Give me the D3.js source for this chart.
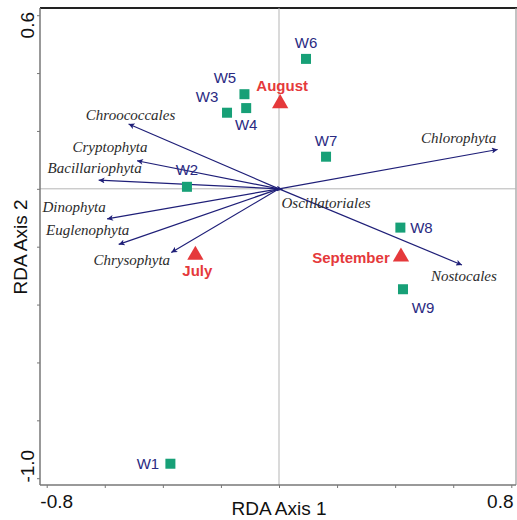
<!DOCTYPE html>
<html>
<head>
<meta charset="utf-8">
<script src="https://cdn.jsdelivr.net/npm/d3@7"></script>
<style>
  html, body { margin: 0; padding: 0; background: #fff; }
  svg { display: block; }
</style>
</head>
<body>
<svg id="chart" width="517" height="520"></svg>
<script>
// ---- Data ----
const siteNames = ["W1", "W2", "W3", "W4", "W5", "W6", "W7", "W8", "W9"];
const siteX = [-0.374, -0.317, -0.179, -0.113, -0.119, 0.093, 0.162, 0.418, 0.427];
const siteY = [-0.950, 0.007, 0.263, 0.279, 0.327, 0.449, 0.111, -0.134, -0.347];

const monthNames = ["August", "July", "September"];
const monthX = [0.004, -0.288, 0.420];
const monthY = [0.295, -0.229, -0.235];

const speciesNames = ["Chroococcales", "Cryptophyta", "Bacillariophyta", "Dinophyta",
  "Euglenophyta", "Chrysophyta", "Chlorophyta", "Nostocales", "Oscillatoriales"];
const speciesX = [-0.518, -0.489, -0.621, -0.592, -0.552, -0.371, 0.753, 0.630, 0.012];
const speciesY = [0.224, 0.097, 0.030, -0.104, -0.192, -0.220, 0.136, -0.263, -0.002];

const xTicks = [-0.8, -0.6, -0.4, -0.2, 0, 0.2, 0.4, 0.6, 0.8];
const yTicks = [-1.0, -0.8, -0.6, -0.4, -0.2, 0, 0.2, 0.4, 0.6];
const xTickLabels = ["-0.8", "0.8"];
const yTickLabels = ["-1.0", "0.6"];
const xAxisTitle = "RDA Axis 1";
const yAxisTitle = "RDA Axis 2";

// ---- Layout (label offsets in px, separate from data) ----
const siteLabelOffset = {
  W1: [-22.5, 5.5], W2: [0, -12], W3: [-20, -11], W4: [0, 22], W5: [-19.5, -11],
  W6: [0, -11], W7: [0, -10.5], W8: [21, 5.5], W9: [20, 24]
};
const monthLabelOffset = { August: [2, -12], July: [2, 21], September: [-50, 6.5] };
const speciesLabelOffset = {
  Chroococcales: [2, -4.5, "middle"], Cryptophyta: [-27, -9, "middle"],
  Bacillariophyta: [-4, -7, "middle"], Dinophyta: [-33, -7, "middle"],
  Euglenophyta: [-31, -9, "middle"], Chrysophyta: [-39.5, 13, "middle"],
  Chlorophyta: [-39, -6, "middle"], Nostocales: [2, 16, "middle"],
  Oscillatoriales: [-1, 18.5, "start"]
};

const svg = d3.select("#chart");
const x = d3.scaleLinear().domain([-0.8, 0.8]).range([46.7, 511.3]);
const y = d3.scaleLinear().domain([-1.0, 0.6]).range([478.2, 15.2]);

const frame = { left: 40, top: 8, right: 516, bottom: 485 };

// frame: top dark, right light gray
svg.append("line").attr("x1", frame.left).attr("x2", frame.right + 1)
  .attr("y1", frame.top).attr("y2", frame.top)
  .attr("stroke", "#222").attr("stroke-width", 2);
svg.append("line").attr("x1", frame.right).attr("x2", frame.right)
  .attr("y1", frame.top).attr("y2", frame.bottom)
  .attr("stroke", "#999").attr("stroke-width", 1.2);

// zero lines
svg.append("line").attr("x1", frame.left).attr("x2", frame.right)
  .attr("y1", y(0)).attr("y2", y(0)).attr("stroke", "#b5b5b5").attr("stroke-width", 1);
svg.append("line").attr("x1", x(0)).attr("x2", x(0))
  .attr("y1", frame.top).attr("y2", frame.bottom).attr("stroke", "#b5b5b5").attr("stroke-width", 1);

// axes (tick marks only)
const xAxis = d3.axisBottom(x).tickValues(xTicks).tickSize(3).tickFormat("");
const yAxis = d3.axisLeft(y).tickValues(yTicks).tickSize(3).tickFormat("");
const gx = svg.append("g").attr("transform", `translate(0,${frame.bottom})`).call(xAxis);
const gy = svg.append("g").attr("transform", `translate(${frame.left},0)`).call(yAxis);
gx.select(".domain").remove();
gy.select(".domain").remove();
gx.selectAll(".tick line").attr("stroke", "#777");
gy.selectAll(".tick line").attr("stroke", "#777");
svg.append("line").attr("x1", frame.left).attr("x2", frame.right)
  .attr("y1", frame.bottom).attr("y2", frame.bottom).attr("stroke", "#777").attr("stroke-width", 1.5);
svg.append("line").attr("x1", frame.left).attr("x2", frame.left)
  .attr("y1", frame.top).attr("y2", frame.bottom).attr("stroke", "#777").attr("stroke-width", 1.5);

const sans = "Arial, 'Liberation Sans', Helvetica, sans-serif";
const serif = "'Times New Roman', 'Liberation Serif', Times, serif";

// end tick labels
svg.append("text").attr("x", x(-0.8) + 10).attr("y", 508).attr("text-anchor", "middle")
  .attr("font-family", sans).attr("font-size", 19).attr("fill", "#111").text(xTickLabels[0]);
svg.append("text").attr("x", x(0.8) - 11).attr("y", 508).attr("text-anchor", "middle")
  .attr("font-family", sans).attr("font-size", 19).attr("fill", "#111").text(xTickLabels[1]);
svg.append("text").attr("transform", `translate(34,${y(-1.0) - 12}) rotate(-90)`)
  .attr("text-anchor", "middle").attr("font-family", sans).attr("font-size", 19)
  .attr("fill", "#111").text(yTickLabels[0]);
svg.append("text").attr("transform", `translate(34,${y(0.6) + 10}) rotate(-90)`)
  .attr("text-anchor", "middle").attr("font-family", sans).attr("font-size", 19)
  .attr("fill", "#111").text(yTickLabels[1]);

// axis titles
svg.append("text").attr("x", x(0)).attr("y", 515).attr("text-anchor", "middle")
  .attr("font-family", sans).attr("font-size", 19).attr("fill", "#111").text(xAxisTitle);
svg.append("text").attr("transform", `translate(27,247) rotate(-90)`)
  .attr("text-anchor", "middle").attr("font-family", sans).attr("font-size", 19)
  .attr("fill", "#111").text(yAxisTitle);

// arrow marker
const arrowColor = "#1f1f78";
svg.append("defs").append("marker")
  .attr("id", "arrow").attr("viewBox", "0 0 10 10")
  .attr("refX", 10).attr("refY", 5)
  .attr("markerWidth", 8).attr("markerHeight", 6)
  .attr("markerUnits", "userSpaceOnUse")
  .attr("orient", "auto")
  .append("path").attr("d", "M0,0 L10,5 L0,10 L2.5,5 Z").attr("fill", arrowColor);

const species = speciesNames.map((n, i) => ({ name: n, x: speciesX[i], y: speciesY[i] }));
svg.append("g").selectAll("line").data(species).join("line")
  .attr("x1", x(0)).attr("y1", y(0))
  .attr("x2", d => x(d.x)).attr("y2", d => y(d.y))
  .attr("stroke", arrowColor).attr("stroke-width", 1.2)
  .attr("marker-end", "url(#arrow)");
svg.append("g").selectAll("text").data(species).join("text")
  .attr("x", d => x(d.x) + speciesLabelOffset[d.name][0])
  .attr("y", d => y(d.y) + speciesLabelOffset[d.name][1])
  .attr("text-anchor", d => speciesLabelOffset[d.name][2])
  .attr("font-family", serif).attr("font-style", "italic").attr("font-size", 15)
  .attr("fill", "#2b2b2b").text(d => d.name);

// sites
const sites = siteNames.map((n, i) => ({ name: n, x: siteX[i], y: siteY[i] }));
const sq = 10;
svg.append("g").selectAll("rect").data(sites).join("rect")
  .attr("x", d => x(d.x) - sq / 2).attr("y", d => y(d.y) - sq / 2)
  .attr("width", sq).attr("height", sq).attr("fill", "#17a077");
svg.append("g").selectAll("text").data(sites).join("text")
  .attr("x", d => x(d.x) + siteLabelOffset[d.name][0])
  .attr("y", d => y(d.y) + siteLabelOffset[d.name][1])
  .attr("text-anchor", "middle")
  .attr("font-family", sans).attr("font-size", 15)
  .attr("fill", "#2a2a82").text(d => d.name);

// months
const months = monthNames.map((n, i) => ({ name: n, x: monthX[i], y: monthY[i] }));
const tri = d3.symbol().type(d3.symbolTriangle).size(115);
svg.append("g").selectAll("path").data(months).join("path")
  .attr("transform", d => `translate(${x(d.x)},${y(d.y)})`)
  .attr("d", tri).attr("fill", "#e5393b");
svg.append("g").selectAll("text").data(months).join("text")
  .attr("x", d => x(d.x) + monthLabelOffset[d.name][0])
  .attr("y", d => y(d.y) + monthLabelOffset[d.name][1])
  .attr("text-anchor", "middle")
  .attr("font-family", sans).attr("font-weight", "bold").attr("font-size", 15)
  .attr("fill", "#e5393b").text(d => d.name);
</script>
</body>
</html>
